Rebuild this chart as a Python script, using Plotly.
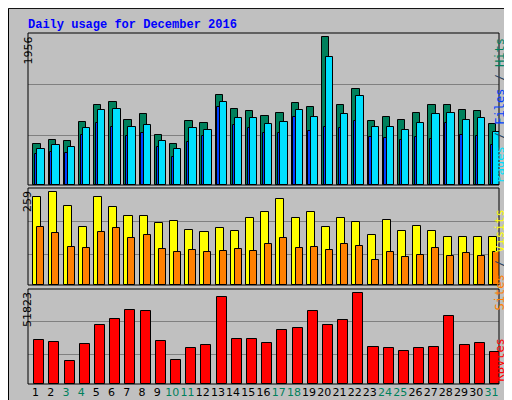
import plotly.graph_objs as go

days = list(range(1, 32))
weekend = [3, 4, 10, 11, 17, 18, 24, 25, 31]

hits = [549, 602, 589, 841, 1066, 1093, 867, 934, 668, 549, 854, 827, 1186, 1013, 974, 920,
        960, 1080, 1027, 1956, 1053, 1266, 854, 907, 867, 947, 1053, 1053, 987, 974, 814]
files = [482, 535, 509, 761, 987, 1000, 774, 801, 589, 482, 761, 735, 1093, 881, 881, 814,
         841, 987, 907, 1690, 934, 1173, 774, 774, 735, 827, 934, 960, 867, 881, 708]
pages = [407, 443, 429, 668, 827, 774, 655, 695, 509, 376, 575, 655, 1027, 801, 761, 695,
         695, 907, 721, 774, 761, 854, 642, 628, 602, 642, 615, 827, 668, 655, 535]
visits = [245, 259, 220, 163, 245, 217, 194, 194, 172, 180, 155, 149, 160, 152, 186, 203,
          239, 186, 203, 163, 186, 175, 141, 183, 152, 166, 152, 135, 135, 135, 135]
sites = [163, 144, 107, 104, 149, 158, 132, 141, 101, 93, 99, 93, 96, 101, 96, 115,
         132, 104, 107, 99, 115, 110, 70, 93, 79, 84, 104, 82, 90, 82, 93]
kbytes = [25150, 24016, 13237, 22881, 33660, 37064, 42169, 41602, 24583, 13804, 20612, 22314,
          49544, 25718, 25718, 23448, 30823, 31958, 41602, 33660, 36496, 51823, 21179, 20612,
          18910, 20612, 21179, 38766, 22314, 23448, 18343]

ticktext = ["<span style='color:#00805c'>%d</span>" % d if d in weekend else str(d) for d in days]
outline = dict(color="black", width=1)

fig = go.Figure()
fig.add_trace(go.Bar(x=days, y=hits, offset=-0.15, width=0.48, marker=dict(color="#00805c", line=outline), xaxis="x", yaxis="y"))
fig.add_trace(go.Bar(x=days, y=pages, offset=-0.04, width=0.16, marker=dict(color="#0040ff", line=outline), xaxis="x", yaxis="y"))
fig.add_trace(go.Bar(x=days, y=files, offset=0.11, width=0.48, marker=dict(color="#00e0ff", line=outline), xaxis="x", yaxis="y"))
fig.add_trace(go.Bar(x=days, y=visits, offset=-0.15, width=0.53, marker=dict(color="#ffff00", line=outline), xaxis="x2", yaxis="y2"))
fig.add_trace(go.Bar(x=days, y=sites, offset=0.11, width=0.46, marker=dict(color="#ff8000", line=outline), xaxis="x2", yaxis="y2"))
fig.add_trace(go.Bar(x=days, y=kbytes, offset=-0.09, width=0.66, marker=dict(color="#ff0000", line=outline), xaxis="x3", yaxis="y3"))

xdom = [20 / 512, 491 / 512]
xcommon = dict(domain=xdom, range=[0.5, 31.5], showgrid=False, zeroline=False, fixedrange=True, automargin=False)
ycommon = dict(showticklabels=False, ticks="", gridcolor="#808080", gridwidth=1, zeroline=False, automargin=False)

fig.update_layout(
    width=512, height=400, margin=dict(l=0, r=0, t=0, b=0, autoexpand=False),
    paper_bgcolor="#c0c0c0", plot_bgcolor="#c0c0c0",
    barmode="overlay", showlegend=False, bargap=0,
    xaxis=dict(xcommon, anchor="y", showticklabels=False),
    xaxis2=dict(xcommon, anchor="y2", showticklabels=False),
    xaxis3=dict(xcommon, anchor="y3", tickvals=days, ticktext=ticktext, ticks="", tickangle=0,
                tickfont=dict(family="DejaVu Sans", size=11, color="black")),
    yaxis=dict(ycommon, domain=[0.5575, 0.9375], range=[0, 2013], tickvals=[656, 1332]),
    yaxis2=dict(ycommon, domain=[0.3075, 0.55], range=[0, 271], tickvals=[84.5, 177]),
    yaxis3=dict(ycommon, domain=[0.06, 0.2975], range=[0, 53864], tickvals=[16641, 35362]),
    title=dict(text="<b>Daily usage for December 2016</b>", x=20 / 512, xanchor="left",
               y=1 - 16 / 400, yanchor="middle",
               font=dict(family="Liberation Mono", size=12, color="#0000ff")),
)

# panel frames and bevelled outer border
shapes = [
    dict(type="rect", xref="paper", yref="paper", x0=0.001, x1=0.999, y0=0.001, y1=0.999, line=dict(color="black", width=1)),
    dict(type="line", xref="paper", yref="paper", x0=0.992, x1=0.992, y0=0.01, y1=0.99, line=dict(color="#808080", width=4)),
    dict(type="line", xref="paper", yref="paper", x0=0.01, x1=0.99, y0=0.008, y1=0.008, line=dict(color="#808080", width=4)),
]
for dom in [[0.5575, 0.9375], [0.3075, 0.55], [0.06, 0.2975]]:
    shapes.append(dict(type="rect", xref="paper", yref="paper", x0=xdom[0], x1=xdom[1], y0=dom[0], y1=dom[1],
                       line=dict(color="black", width=1)))
fig.update_layout(shapes=shapes)

ann = dict(xref="paper", yref="paper", showarrow=False, textangle=-90,
           font=dict(family="DejaVu Sans Mono", size=12))
fig.add_annotation(ann, text="1956", x=11 / 512, y=1 - 27 / 400, yanchor="top",
                   font=dict(family="DejaVu Sans", size=11, color="black"))
fig.add_annotation(ann, text="259", x=11 / 512, y=1 - 181 / 400, yanchor="top",
                   font=dict(family="DejaVu Sans", size=11, color="black"))
fig.add_annotation(ann, text="51823", x=11 / 512, y=1 - 282 / 400, yanchor="top",
                   font=dict(family="DejaVu Sans", size=11, color="black"))
fig.add_annotation(ann, x=500 / 512, y=1 - 28 / 400, yanchor="top",
                   text="<span style='color:#00e0ff'>Pages</span> / <span style='color:#0040ff'>Files</span> / <span style='color:#00805c'>Hits</span>")
fig.add_annotation(ann, x=500 / 512, y=1 - 200 / 400, yanchor="top",
                   text="<span style='color:#ff8000'>Sites</span> / <span style='color:#ffff00'>Visits</span>")
fig.add_annotation(ann, x=500 / 512, y=1 - 376 / 400, yanchor="bottom",
                   text="<span style='color:#ff0000'>KBytes</span>")

fig.write_html("out.html")
